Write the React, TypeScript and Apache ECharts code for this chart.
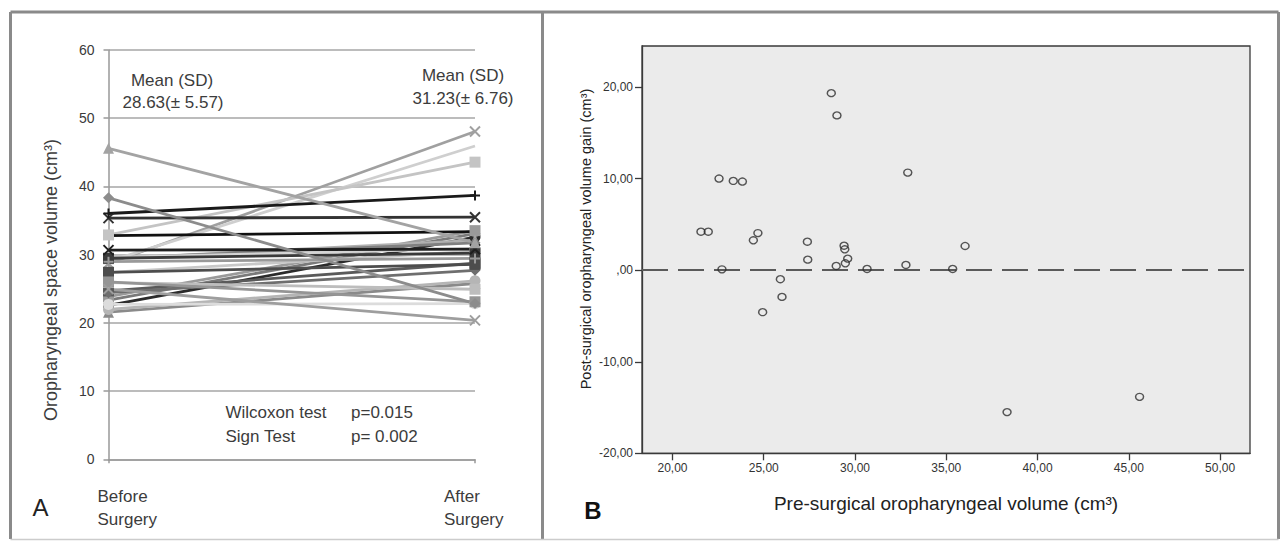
import React, { useEffect, useRef } from 'react';
import * as echarts from 'echarts';

// ---------- data ----------
const stageCategories = ['1', '2'];
const stageLabels = ['Before\nSurgery', 'After\nSurgery'];

// pre-surgical oropharyngeal volume (cm³), one per patient
const preSurgicalVolume = [
  28.70, 29.01, 22.55, 23.33, 23.83, 32.89, 21.56, 21.96, 24.68, 24.43,
  27.39, 27.41, 29.40, 29.44, 29.60, 29.47, 28.97, 30.66, 32.79, 35.35,
  36.03, 22.71, 25.91, 26.00, 24.94, 38.33, 45.59,
];
// post-surgical volume gain (cm³), same patient order
const volumeGain = [
  19.35, 16.92, 10.02, 9.76, 9.69, 10.67, 4.21, 4.21, 4.06, 3.27,
  3.12, 1.16, 2.68, 2.29, 1.27, 0.76, 0.47, 0.14, 0.58, 0.14,
  2.65, 0.10, -0.98, -2.91, -4.58, -15.50, -13.83,
];

const meanTitles = ['Mean (SD)', 'Mean (SD)'];
const meanValues = ['28.63(± 5.57)', '31.23(± 6.76)'];
const testNames = ['Wilcoxon test', 'Sign Test'];
const testPValues = ['p=0.015', 'p= 0.002'];

const scatterXTicks = [20, 25, 30, 35, 40, 45, 50];
const scatterYTicks = [-20, -10, 0, 10, 20];

// ---------- styles ----------
const X_PATH = 'path://M0,0L10,10M10,0L0,10';
const PLUS_PATH = 'path://M5,0L5,10M0,5L10,5';
const DASH_PATH = 'path://M0,5L10,5';

const lineColors = [
  '#a0a0a0', '#cfcfcf', '#2b2b2b', '#7a7a7a', '#9a9a9a', '#c4c4c4', '#8a8a8a', '#b5b5b5', '#5a5a5a', '#6e6e6e',
  '#c8c8c8', '#4d4d4d', '#b0b0b0', '#808080', '#d4d4d4', '#3a3a3a', '#999999', '#1f1f1f', '#111111', '#333333',
  '#1a1a1a', '#dcdcdc', '#bdbdbd', '#959595', '#9e9e9e', '#8c8c8c', '#a3a3a3',
];
const lineSymbols = [
  'x', 'dash', 'circle', 'diamond', 'rect', 'rect', 'triangle', 'circle', 'rect', 'diamond',
  'circle', 'rect', 'triangle', 'diamond', 'circle', 'rect', 'plus', 'x', 'none', 'x',
  'plus', 'circle', 'rect', 'rect', 'x', 'diamond', 'triangle',
];

const FONT = '"Liberation Sans", Arial, sans-serif';

function symbolFor(s: string) {
  if (s === 'x') return X_PATH;
  if (s === 'plus') return PLUS_PATH;
  if (s === 'dash') return DASH_PATH;
  return s;
}

function fmtComma(v: number) {
  if (v === 0) return ',00';
  return v.toFixed(2).replace('.', ',');
}

export default function App() {
  const ref = useRef<HTMLDivElement>(null);

  useEffect(() => {
    if (!ref.current) return;
    const chart = echarts.init(ref.current, null, { renderer: 'svg' });

    const postSurgicalVolume = preSurgicalVolume.map((p, i) => +(p + volumeGain[i]).toFixed(2));

    const lineSeries = preSurgicalVolume.map((pre, i) => {
      const s = lineSymbols[i];
      const stroked = s === 'x' || s === 'plus' || s === 'dash';
      return {
        type: 'line',
        name: 'Patient ' + (i + 1),
        xAxisIndex: 0,
        yAxisIndex: 0,
        data: [pre, postSurgicalVolume[i]],
        symbol: symbolFor(s),
        symbolSize: stroked ? 10 : 11,
        showSymbol: s !== 'none',
        lineStyle: { color: lineColors[i], width: 2.8 },
        itemStyle: {
          color: lineColors[i],
          borderColor: lineColors[i],
          borderWidth: stroked ? 2 : 0,
        },
        z: 3,
      };
    });

    const scatterData = preSurgicalVolume.map((p, i) => [p, volumeGain[i]]);

    const greyText = '#3c3c3c';

    const option: any = {
      animation: false,
      backgroundColor: '#ffffff',
      grid: [
        { left: 108.5, top: 50, width: 366.5, height: 409.3, containLabel: false },
        {
          left: 642, top: 46, width: 608, height: 407.3, containLabel: false,
          show: true, backgroundColor: '#ebebeb', borderColor: '#3a3a3a', borderWidth: 1.3,
        },
      ],
      xAxis: [
        {
          gridIndex: 0,
          type: 'category',
          data: stageCategories,
          boundaryGap: false,
          axisLine: { show: true, lineStyle: { color: '#999999', width: 1.5 } },
          axisTick: { show: true, length: 4, lineStyle: { color: '#999999', width: 1.5 } },
          axisLabel: { show: false },
          splitLine: { show: false },
        },
        {
          gridIndex: 1,
          type: 'value',
          min: 18.33,
          max: 51.64,
          name: 'Pre-surgical oropharyngeal volume (cm³)',
          nameLocation: 'middle',
          nameGap: 41,
          nameTextStyle: { fontFamily: FONT, fontSize: 19, color: '#222' },
          axisLine: { show: true, onZero: false, lineStyle: { color: '#3a3a3a', width: 1.3 } },
          axisTick: { show: true, length: 7, customValues: scatterXTicks, lineStyle: { color: '#3a3a3a', width: 1.3 } },
          axisLabel: {
            customValues: scatterXTicks, formatter: (v: number) => fmtComma(v),
            fontFamily: FONT, fontSize: 12, color: '#333', margin: 9,
          },
          splitLine: { show: false },
        },
      ],
      yAxis: [
        {
          gridIndex: 0,
          type: 'value',
          min: 0,
          max: 60,
          interval: 10,
          axisLine: { show: true, lineStyle: { color: '#999999', width: 1.5 } },
          axisTick: { show: true, length: 5, lineStyle: { color: '#999999', width: 1.5 } },
          axisLabel: { fontFamily: FONT, fontSize: 14, color: '#3a3a3a', margin: 14 },
          splitLine: { show: true, lineStyle: { color: '#a6a6a6', width: 1.5 } },
        },
        {
          gridIndex: 1,
          type: 'value',
          min: -20,
          max: 24.5,
          axisLine: { show: true, onZero: false, lineStyle: { color: '#3a3a3a', width: 1.3 } },
          axisTick: { show: true, length: 7, customValues: scatterYTicks, lineStyle: { color: '#3a3a3a', width: 1.3 } },
          axisLabel: {
            customValues: scatterYTicks, formatter: (v: number) => fmtComma(v),
            fontFamily: FONT, fontSize: 12, color: '#333', margin: 9,
          },
          splitLine: { show: false },
        },
      ],
      series: [
        ...lineSeries,
        {
          type: 'scatter',
          name: 'Volume gain',
          xAxisIndex: 1,
          yAxisIndex: 1,
          data: scatterData,
          symbol: 'circle',
          symbolSize: [8, 7],
          itemStyle: { color: 'rgba(0,0,0,0)', borderColor: '#2e2e2e', borderWidth: 1.4 },
          z: 5,
          markLine: {
            silent: true,
            symbol: 'none',
            label: { show: false },
            lineStyle: { color: '#5a5a5a', width: 2, type: [26, 10] },
            data: [{ yAxis: 0 }],
            z: 4,
          },
        },
      ],
      graphic: [
        // frame
        { type: 'line', shape: { x1: 10.5, y1: 12, x2: 1278.5, y2: 12 }, style: { stroke: '#8a8a8a', lineWidth: 3 }, silent: true },
        { type: 'line', shape: { x1: 10.5, y1: 12, x2: 10.5, y2: 539 }, style: { stroke: '#8a8a8a', lineWidth: 3 }, silent: true },
        { type: 'line', shape: { x1: 542.5, y1: 12, x2: 542.5, y2: 539 }, style: { stroke: '#8a8a8a', lineWidth: 3 }, silent: true },
        { type: 'line', shape: { x1: 1278.5, y1: 12, x2: 1278.5, y2: 539 }, style: { stroke: '#8a8a8a', lineWidth: 3 }, silent: true },
        { type: 'line', shape: { x1: 10.5, y1: 539.5, x2: 1278.5, y2: 539.5 }, style: { stroke: '#cccccc', lineWidth: 1.5 }, silent: true },
        // left panel annotations
        { type: 'text', x: 172, y: 80, style: { text: meanTitles[0], font: '17px ' + FONT, fill: greyText, align: 'center', verticalAlign: 'middle' } },
        { type: 'text', x: 173, y: 102.6, style: { text: meanValues[0], font: '17px ' + FONT, fill: greyText, align: 'center', verticalAlign: 'middle' } },
        { type: 'text', x: 463, y: 75.8, style: { text: meanTitles[1], font: '17px ' + FONT, fill: greyText, align: 'center', verticalAlign: 'middle' } },
        { type: 'text', x: 463, y: 98, style: { text: meanValues[1], font: '17px ' + FONT, fill: greyText, align: 'center', verticalAlign: 'middle' } },
        { type: 'text', x: 225.5, y: 412, style: { text: testNames[0], font: '17px ' + FONT, fill: greyText, align: 'left', verticalAlign: 'middle' } },
        { type: 'text', x: 351, y: 412, style: { text: testPValues[0], font: '17px ' + FONT, fill: greyText, align: 'left', verticalAlign: 'middle' } },
        { type: 'text', x: 225.5, y: 436, style: { text: testNames[1], font: '17px ' + FONT, fill: greyText, align: 'left', verticalAlign: 'middle' } },
        { type: 'text', x: 351, y: 436, style: { text: testPValues[1], font: '17px ' + FONT, fill: greyText, align: 'left', verticalAlign: 'middle' } },
        { type: 'text', x: 97.5, y: 507.5, style: { text: stageLabels[0], font: '17px ' + FONT, lineHeight: 23, fill: greyText, align: 'left', verticalAlign: 'middle' } },
        { type: 'text', x: 444, y: 507.5, style: { text: stageLabels[1], font: '17px ' + FONT, lineHeight: 23, fill: greyText, align: 'left', verticalAlign: 'middle' } },
        { type: 'text', x: 40.5, y: 507, style: { text: 'A', font: '24px ' + FONT, fill: '#222', align: 'center', verticalAlign: 'middle' } },
        {
          type: 'text', x: 51, y: 280, rotation: Math.PI / 2,
          style: { text: 'Oropharyngeal space volume (cm³)', font: '18px ' + FONT, fill: greyText, align: 'center', verticalAlign: 'middle' },
        },
        // right panel annotations
        { type: 'text', x: 593, y: 510.5, style: { text: 'B', font: 'bold 24px ' + FONT, fill: '#111', align: 'center', verticalAlign: 'middle' } },
        {
          type: 'text', x: 585.7, y: 239, rotation: Math.PI / 2,
          style: { text: 'Post-surgical oropharyngeal volume gain (cm³)', font: '14.5px ' + FONT, fill: '#222', align: 'center', verticalAlign: 'middle' },
        },
      ],
    };

    chart.setOption(option);
    return () => chart.dispose();
  }, []);

  return (
    <div
      ref={ref}
      style={{ position: 'fixed', left: 0, top: 0, width: 1282, height: 541, background: '#fff' }}
    />
  );
}
